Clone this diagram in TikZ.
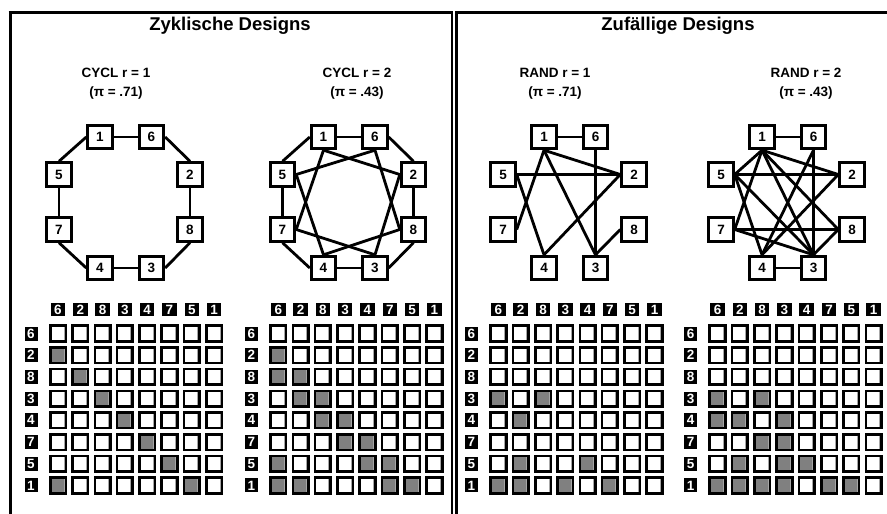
\documentclass[tikz,border=0pt]{standalone}
\usepackage{fontspec}
\setmainfont{Liberation Sans}
\usetikzlibrary{backgrounds}
\tikzset{
  gnode/.style={draw, line width=2.9pt, fill=white, minimum width=24.5pt, minimum height=23.5pt, inner sep=0pt, font=\bfseries\fontsize{13.5}{13.5}\selectfont},
  gedge/.style={line width=2.8pt},
  hlab/.style={fill=black, text=white, inner sep=0pt, minimum width=14.5pt, minimum height=13pt, font=\bfseries\fontsize{13.5}{13.5}\selectfont},
  rlab/.style={fill=black, text=white, inner sep=0pt, minimum width=13pt, minimum height=14pt, font=\bfseries\fontsize{13.5}{13.5}\selectfont},
  titletext/.style={font=\bfseries\fontsize{18.5}{20}\selectfont},
  subtext/.style={font=\bfseries\fontsize{13.5}{19}\selectfont, align=center},
  cellbox/.style={draw=black, line width=2.6pt, fill=white},
  cellshade/.style={fill=gray},
  cellrim/.style={draw=gray!70, line width=1pt},
  frameline/.style={line width=2.4pt}
}
\newcommand\placegraph[2]{%
  \node[gnode] (#1n1) at (#2-24.5,137) {1};
  \node[gnode] (#1n6) at (#2+27,137) {6};
  \node[gnode] (#1n5) at (#2-65.5,174.5) {5};
  \node[gnode] (#1n2) at (#2+65.5,174.5) {2};
  \node[gnode] (#1n7) at (#2-65.5,229.5) {7};
  \node[gnode] (#1n8) at (#2+65.5,229.5) {8};
  \node[gnode] (#1n4) at (#2-24.5,268) {4};
  \node[gnode] (#1n3) at (#2+27,268) {3};
}
\newcommand\octagon[1]{%
  \draw[gedge] (#1n1.east) -- (#1n6.west);
  \draw[gedge] (#1n6.east) -- (#1n2.north);
  \draw[gedge] (#1n2.south) -- (#1n8.north);
  \draw[gedge] (#1n8.south) -- (#1n3.east);
  \draw[gedge] (#1n3.west) -- (#1n4.east);
  \draw[gedge] (#1n4.west) -- (#1n7.south);
  \draw[gedge] (#1n7.north) -- (#1n5.south);
  \draw[gedge] (#1n5.north) -- (#1n1.west);
}
\newcommand\drawmatrix[3]{%
  \foreach \lab [count=\k from 0] in {6,2,8,3,4,7,5,1} {
    \node[hlab] (#1c\k) at (#2+\k*22.3,309.5) {\lab};
    \node[rlab] (#1r\k) at (#2-27,333.5+\k*21.7) {\lab};
  }
  \foreach \r in {0,...,7} {
    \foreach \c in {0,...,7} {
      \path[cellbox] (#2+\c*22.3-7.8,333.5+\r*21.7-7.8) rectangle (#2+\c*22.3+7.8,333.5+\r*21.7+7.8);
    }
  }
  \foreach \r/\c in {#3} {
    \path[cellshade] (#2+\c*22.3-6.5,333.5+\r*21.7-6.5) rectangle (#2+\c*22.3+6.5,333.5+\r*21.7+6.5);
  }
  \foreach \r in {0,...,7} {
    \foreach \c in {0,...,7} {
      \path[cellrim] (#2+\c*22.3+6,333.5+\r*21.7-6.5) -- (#2+\c*22.3+6,333.5+\r*21.7+6.5);
    }
  }
}
\begin{document}
\begin{tikzpicture}[x=1pt,y=-1pt]
\useasboundingbox (0,0) rectangle (887,514);
% frames
\draw[line width=3pt] (10,516) -- (10,12.5);
\draw[frameline] (8.5,12.5) -- (452,12.5) -- (452,516);
\draw[frameline] (456.5,516) -- (456.5,12.5) -- (889,12.5);
% titles
\node[titletext] (t1) at (230,26) {Zyklische Designs};
\node[titletext] (t2) at (678,26) {Zufällige Designs};
\node[subtext] (s1) at (116,84) {CYCL r = 1\\(π = .71)};
\node[subtext] (s2) at (357,84) {CYCL r = 2\\(π = .43)};
\node[subtext] (s3) at (555,84) {RAND r = 1\\(π = .71)};
\node[subtext] (s4) at (806,84) {RAND r = 2\\(π = .43)};
% graphs
\placegraph{a}{124.5}
\placegraph{b}{348}
\placegraph{c}{568.5}
\placegraph{d}{786.5}
\begin{pgfonlayer}{background}
\fill[white] (0,0) rectangle (887,514);
\octagon{a}
\octagon{b}
\foreach \p/\q in {1.south/2.west, 1.south/7.east, 6.south/5.east, 6.south/8.west, 5.east/4.north, 2.west/3.north, 7.east/3.north, 8.west/4.north}
  \draw[gedge] (bn\p) -- (bn\q);
\foreach \p/\q in {1.east/6.west, 1.south/2.west, 1.south/7.east, 1.south/3.north, 5.east/2.west, 5.east/4.north, 6.south/3.north, 2.west/4.north, 8.west/3.north}
  \draw[gedge] (cn\p) -- (cn\q);
\foreach \p/\q in {1.east/6.west, 1.south/5.east, 1.south/2.west, 1.south/8.west, 1.south/3.north, 1.south/7.east, 5.east/2.west, 5.east/3.north, 5.east/4.north, 6.south/4.north, 6.south/3.north, 2.west/4.north, 7.east/8.west, 7.east/3.north, 8.west/3.north, 4.east/3.west}
  \draw[gedge] (dn\p) -- (dn\q);
\end{pgfonlayer}
% matrices
\drawmatrix{ma}{58}{1/0, 2/1, 3/2, 4/3, 5/4, 6/5, 7/0, 7/6}
\drawmatrix{mb}{278.3}{1/0, 2/0, 2/1, 3/1, 3/2, 4/2, 4/3, 5/3, 5/4, 6/0, 6/4, 6/5, 7/0, 7/1, 7/5, 7/6}
\drawmatrix{mc}{498.4}{3/0, 3/2, 4/1, 6/1, 6/4, 7/0, 7/1, 7/3, 7/5}
\drawmatrix{md}{717.5}{3/0, 3/2, 4/0, 4/1, 4/3, 5/2, 5/3, 6/1, 6/3, 6/4, 7/0, 7/1, 7/2, 7/3, 7/5, 7/6}
\end{tikzpicture}
\end{document}
